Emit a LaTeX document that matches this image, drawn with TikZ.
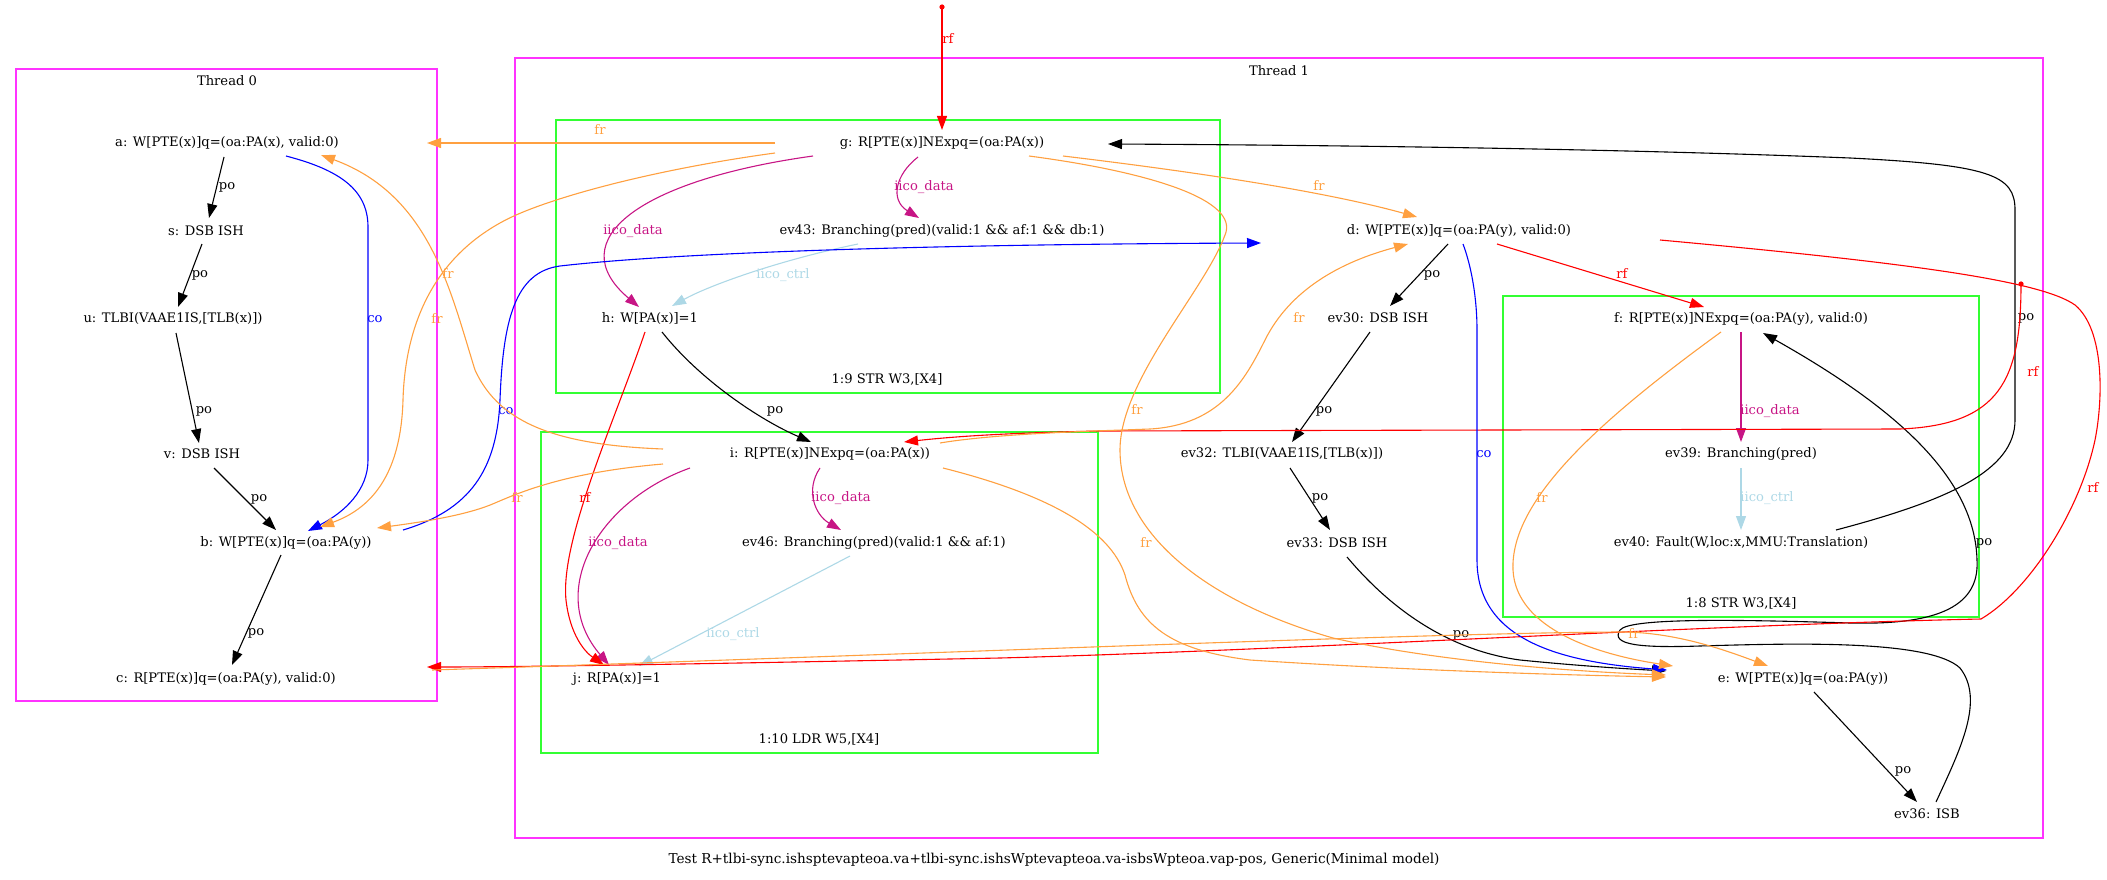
\documentclass[tikz,border=0pt]{standalone}
\usepackage{fontspec}
\setmainfont{DejaVu Serif}
\usetikzlibrary{arrows.meta,calc}
\definecolor{frcol}{RGB}{255,160,64}
\definecolor{datacol}{RGB}{199,21,133}
\definecolor{ctrlcol}{RGB}{173,216,230}
\definecolor{thrcol}{RGB}{255,51,255}
\definecolor{grpcol}{RGB}{51,255,51}
\begin{document}
\begin{tikzpicture}[x=1pt,y=-1pt,
  txt/.style={inner sep=0pt, font=\fontsize{13.1}{15}\selectfont},
  ev/.style={txt},
  lbl/.style={txt},
  arc/.style={line width=1.1pt, -{Triangle[length=14pt,width=10pt]}},
  po/.style={arc, black},
  fr/.style={arc, frcol},
  rf/.style={arc, red},
  co/.style={arc, blue},
  idata/.style={arc, datacol},
  ictrl/.style={arc, ctrlcol},
  thread/.style={draw=thrcol, line width=1.3pt},
  instr/.style={draw=grpcol, line width=1.3pt},
]
\useasboundingbox (0,0) rectangle (2107,880);

% threads and instruction groups
\draw[thread] (16,69) rectangle (437,701);
\draw[thread] (515,58) rectangle (2043,838);
\draw[instr] (556,120) rectangle (1220,393);
\draw[instr] (541,432) rectangle (1098,753);
\draw[instr] (1503,296) rectangle (1979,617);
\node[txt] (t0) at (227,81) {Thread 0};
\node[txt] (t1) at (1279,71) {Thread 1};
\node[txt] (g19) at (887,379) {1:9 STR W3,[X4]};
\node[txt] (g110) at (819,739) {1:10 LDR W5,[X4]};
\node[txt] (g18) at (1741,603) {1:8 STR W3,[X4]};
\node[txt, font=\fontsize{13.6}{15}\selectfont] (cap) at (1054,860) {Test R+tlbi-sync.ishsptevapteoa.va+tlbi-sync.ishsWptevapteoa.va-isbsWpteoa.vap-pos, Generic(Minimal model)};

% events of thread 0
\node[ev] (a) at (227,143) {a: W[PTE(x)]q=(oa:PA(x), valid:0)};
\node[ev] (s) at (206,231) {s: DSB ISH};
\node[ev] (u) at (173,319) {u: TLBI(VAAE1IS,[TLB(x)])};
\node[ev] (v) at (202,454) {v: DSB ISH};
\node[ev] (b) at (286,543) {b: W[PTE(x)]q=(oa:PA(y))};
\node[ev] (c) at (226,679) {c: R[PTE(x)]q=(oa:PA(y), valid:0)};

% events of thread 1
\node[ev] (g) at (942,143) {g: R[PTE(x)]NExpq=(oa:PA(x))};
\node[ev] (ev43) at (942,231) {ev43: Branching(pred)(valid:1 \&\& af:1 \&\& db:1)};
\node[ev] (h) at (650,319) {h: W[PA(x)]=1};
\node[ev] (i) at (830,454) {i: R[PTE(x)]NExpq=(oa:PA(x))};
\node[ev] (ev46) at (874,543) {ev46: Branching(pred)(valid:1 \&\& af:1)};
\node[ev] (j) at (617,679) {j: R[PA(x)]=1};
\node[ev] (d) at (1459,231) {d: W[PTE(x)]q=(oa:PA(y), valid:0)};
\node[ev] (ev30) at (1378,318) {ev30: DSB ISH};
\node[ev] (ev32) at (1282,454) {ev32: TLBI(VAAE1IS,[TLB(x)])};
\node[ev] (ev33) at (1337,543) {ev33: DSB ISH};
\node[ev] (e) at (1803,679) {e: W[PTE(x)]q=(oa:PA(y))};
\node[ev] (ev36) at (1927,814) {ev36: ISB};
\node[ev] (f) at (1741,319) {f: R[PTE(x)]NExpq=(oa:PA(y), valid:0)};
\node[ev] (ev39) at (1741,454) {ev39: Branching(pred)};
\node[ev] (ev40) at (1741,543) {ev40: Fault(W,loc:x,MMU:Translation)};

% initial-state sources
\coordinate (init0) at (942,7);
\coordinate (init1) at (2021,284);
\fill[red] (init0) circle (2.6);
\fill[red] (init1) circle (2.6);

% program order, thread 0
\draw[po] ($(a)+(-3,14)$) -- ($(s)+(3,-13)$);
\draw[po] ($(s)+(-4,13)$) -- ($(u)+(5,-12)$);
\draw[po] ($(u)+(3,14)$) -- ($(v)+(-3,-11)$);
\draw[po] ($(v)+(12,14)$) -- ($(b)+(-10,-13)$);
\draw[po] ($(b)+(-5,12)$) -- ($(c)+(6,-14)$);
\node[lbl] (l1) at (227,187) {po};
\node[lbl] (l2) at (200,275) {po};
\node[lbl] (l3) at (204,411) {po};
\node[lbl] (l4) at (259,499) {po};
\node[lbl] (l5) at (256,633) {po};

% coherence a -> b
\draw[co] ($(a)+(59,13)$) .. controls (340,170) and (368,190) .. (368,227) -- (368,460) .. controls (368,490) and (345,512) .. ($(b)+(22,-12)$);
\node[lbl, text=blue] (l6) at (375,319) {co};

% thread 1, instruction internals
\draw[idata] ($(g)+(-24,14)$) .. controls (895,175) and (890,200) .. ($(ev43)+(-23,-13)$);
\node[lbl, text=datacol] (l7) at (924,187) {iico\_data};
\draw[idata] ($(g)+(-129,13)$) .. controls (640,180) and (560,240) .. ($(h)+(-11,-12)$);
\node[lbl, text=datacol] (l8) at (633,231) {iico\_data};
\draw[ictrl] ($(ev43)+(-84,13)$) .. controls (780,260) and (710,285) .. ($(h)+(22,-13)$);
\node[lbl, text=ctrlcol] (l9) at (783,275) {iico\_ctrl};
\draw[idata] ($(i)+(-10,14)$) .. controls (805,490) and (815,515) .. ($(ev46)+(-33,-13)$);
\node[lbl, text=datacol] (l10) at (841,498) {iico\_data};
\draw[idata] ($(i)+(-140,14)$) .. controls (600,500) and (545,590) .. ($(j)+(-8,-14)$);
\node[lbl, text=datacol] (l11) at (618,543) {iico\_data};
\draw[ictrl] ($(ev46)+(-24,13)$) -- ($(j)+(22,-13)$);
\node[lbl, text=ctrlcol] (l12) at (733,634) {iico\_ctrl};
\draw[idata] ($(f)+(0,13)$) -- ($(ev39)+(0,-12)$);
\node[lbl, text=datacol] (l13) at (1770,411) {iico\_data};
\draw[ictrl] ($(ev39)+(0,14)$) -- ($(ev40)+(0,-13)$);
\node[lbl, text=ctrlcol] (l14) at (1767,498) {iico\_ctrl};

% program order, thread 1
\draw[po] ($(h)+(12,13)$) .. controls (700,380) and (760,420) .. ($(i)+(-19,-12)$);
\node[lbl] (l15) at (775,411) {po};
\draw[po] ($(d)+(-11,13)$) -- ($(ev30)+(12,-12)$);
\node[lbl] (l16) at (1432,275) {po};
\draw[po] ($(ev30)+(-8,14)$) -- ($(ev32)+(10,-12)$);
\node[lbl] (l17) at (1324,411) {po};
\draw[po] ($(ev32)+(8,14)$) -- ($(ev33)+(-7,-13)$);
\node[lbl] (l18) at (1320,498) {po};
\draw[po] ($(ev33)+(10,14)$) .. controls (1400,620) and (1460,652) .. (1520,660) .. controls (1580,666) and (1630,669) .. ($(e)+(-137,-8)$);
\node[lbl] (l19) at (1461,635) {po};
\draw[po] ($(e)+(11,13)$) -- ($(ev36)+(-10,-12)$);
\node[lbl] (l20) at (1903,771) {po};
\draw[po] ($(ev36)+(9,-12)$) .. controls (1960,750) and (1985,700) .. (1960,668) .. controls (1930,640) and (1800,643) .. (1700,646) .. controls (1640,648) and (1610,645) .. (1620,630) .. controls (1630,617) and (1750,620) .. (1850,623) .. controls (1930,625) and (1980,610) .. (1977,560) .. controls (1975,480) and (1900,410) .. ($(f)+(22,14)$);
\node[lbl] (l21) at (1984,543) {po};
\draw[po] ($(ev40)+(95,-13)$) .. controls (1950,500) and (2015,470) .. (2015,420) -- (2015,210) .. controls (2015,175) and (1990,165) .. (1850,158) .. controls (1600,148) and (1300,145) .. ($(g)+(166,1)$);
\node[lbl] (l22) at (2026,318) {po};

% reads-from
\draw[rf] (init0) -- ($(g)+(0,-13)$);
\node[lbl, text=red] (l23) at (948,39) {rf};
\draw[rf] (init1) .. controls (2021,380) and (2000,425) .. (1900,429) -- (1100,431) .. controls (1000,433) and (950,437) .. ($(i)+(74,-12)$);
\node[lbl, text=red] (l24) at (2033,372) {rf};
\draw[rf] ($(h)+(-5,13)$) .. controls (615,420) and (560,540) .. (566,600) .. controls (570,635) and (585,652) .. ($(j)+(-13,-14)$);
\node[lbl, text=red] (l25) at (585,498) {rf};
\draw[rf] ($(d)+(38,13)$) -- ($(f)+(-37,-12)$);
\node[lbl, text=red] (l26) at (1622,274) {rf};
\draw[rf] ($(d)+(201,9)$) .. controls (1900,262) and (2040,280) .. (2075,305) .. controls (2105,330) and (2103,400) .. (2095,440) .. controls (2080,510) and (2030,590) .. (1981,619) .. controls (1700,625) and (1300,650) .. (1000,658) .. controls (700,664) and (520,667) .. ($(c)+(201,-12)$);
\node[lbl, text=red] (l27) at (2093,488) {rf};

% coherence
\draw[co] ($(b)+(117,-13)$) .. controls (470,510) and (497,470) .. (500,400) .. controls (503,320) and (515,272) .. (560,266) .. controls (700,250) and (1000,244) .. ($(d)+(-198,12)$);
\node[lbl, text=blue] (l28) at (506,411) {co};
\draw[co] ($(d)+(4,13)$) .. controls (1472,268) and (1477,300) .. (1477,330) -- (1477,560) .. controls (1477,640) and (1560,662) .. ($(e)+(-136,-9)$);
\node[lbl, text=blue] (l29) at (1484,454) {co};

% from-reads
\draw[fr] ($(g)+(-167,0)$) -- ($(a)+(200,0)$);
\node[lbl, text=frcol] (l30) at (600,130) {fr};
\draw[fr] ($(g)+(-167,10)$) .. controls (650,170) and (540,200) .. (500,223) .. controls (430,262) and (405,330) .. (403,400) .. controls (401,470) and (375,507) .. ($(b)+(34,-16)$);
\node[lbl, text=frcol] (l31) at (437,319) {fr};
\draw[fr] ($(i)+(-167,-5)$) .. controls (560,445) and (500,425) .. (475,370) .. controls (450,290) and (430,195) .. ($(a)+(94,12)$);
\node[lbl, text=frcol] (l32) at (448,274) {fr};
\draw[fr] ($(i)+(-167,10)$) .. controls (570,472) and (525,490) .. (495,503) .. controls (470,514) and (430,521) .. ($(b)+(91,-15)$);
\node[lbl, text=frcol] (l33) at (517,498) {fr};
\draw[fr] ($(g)+(121,13)$) .. controls (1180,170) and (1320,190) .. ($(d)+(-42,-14)$);
\node[lbl, text=frcol] (l34) at (1319,186) {fr};
\draw[fr] ($(i)+(110,-11)$) .. controls (1000,433) and (1100,431) .. (1150,429) .. controls (1220,425) and (1245,380) .. (1265,340) .. controls (1290,290) and (1340,262) .. ($(d)+(-51,13)$);
\node[lbl, text=frcol] (l35) at (1299,318) {fr};
\draw[fr] ($(g)+(87,13)$) .. controls (1150,172) and (1240,200) .. (1225,235) .. controls (1205,290) and (1120,380) .. (1120,450) .. controls (1120,530) and (1200,600) .. (1333,638) .. controls (1430,660) and (1560,671) .. ($(e)+(-137,-4)$);
\node[lbl, text=frcol] (l36) at (1137,410) {fr};
\draw[fr] ($(i)+(113,14)$) .. controls (1050,495) and (1110,530) .. (1125,575) .. controls (1138,625) and (1170,650) .. (1250,660) .. controls (1400,670) and (1560,675) .. ($(e)+(-137,-2)$);
\node[lbl, text=frcol] (l37) at (1146,543) {fr};
\draw[fr] ($(f)+(-20,13)$) .. controls (1600,420) and (1510,500) .. (1513,570) .. controls (1516,630) and (1600,655) .. ($(e)+(-130,-13)$);
\node[lbl, text=frcol] (l38) at (1542,498) {fr};
\draw[fr] ($(c)+(206,-9)$) .. controls (900,655) and (1450,632) .. (1625,632) .. controls (1680,633) and (1730,652) .. ($(e)+(-35,-13)$);
\node[lbl, text=frcol] (l39) at (1634,634) {fr};
\end{tikzpicture}
\end{document}
